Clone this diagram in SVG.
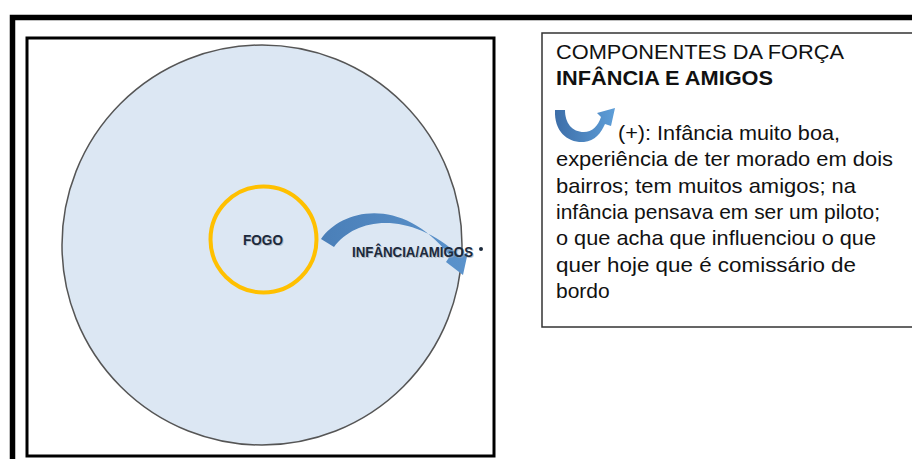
<svg xmlns="http://www.w3.org/2000/svg" width="912" height="459" viewBox="0 0 912 459">
<defs>
<style>
.t{font-family:"Liberation Sans",Arial,sans-serif;font-size:21px;fill:#111}
.b{font-weight:bold}
.lbl{font-family:"Liberation Sans",Arial,sans-serif;font-weight:bold;fill:#1c2a3c}
.sh{font-family:"Liberation Sans",Arial,sans-serif;font-weight:bold;fill:#9aa3ad;opacity:0.6}
</style>
<linearGradient id="gU" x1="0" y1="0" x2="1" y2="0">
<stop offset="0" stop-color="#3d6ea8"/>
<stop offset="1" stop-color="#5e9ed8"/>
</linearGradient>
<linearGradient id="gA" x1="0" y1="0" x2="1" y2="0">
<stop offset="0" stop-color="#4a7fb8"/>
<stop offset="1" stop-color="#5b93cc"/>
</linearGradient>
</defs>
<rect width="912" height="459" fill="#fff"/>
<g id="frame">
<rect x="12.5" y="17.5" width="1000" height="1000" fill="none" stroke="#000" stroke-width="5.5"/>
<rect x="27" y="38" width="467" height="418" fill="#fff" stroke="#000" stroke-width="3"/>
</g>
<g id="campo">
<circle cx="262" cy="245" r="200" fill="#dce7f3" stroke="#555" stroke-width="1.5"/>
</g>
<g id="fogo">
<circle cx="263.5" cy="239.5" r="53" fill="none" stroke="#ffc000" stroke-width="4"/>
<text class="sh" x="244" y="246" font-size="15" textLength="40" lengthAdjust="spacingAndGlyphs">FOGO</text>
<text class="lbl" x="243" y="245" font-size="15" textLength="40" lengthAdjust="spacingAndGlyphs">FOGO</text>
</g>
<g id="connectors">
<path d="M 321,239 C 342,209 402,195 450,256 L 446,262 L 463,275 L 468,252 L 460,256 C 410,210 356,217 334,247 Z" fill="url(#gA)"/>
</g>
<g id="infancia-amigos">
<text class="sh" x="353" y="258" font-size="15" textLength="121" lengthAdjust="spacingAndGlyphs">INFÂNCIA/AMIGOS</text>
<text class="lbl" x="352" y="257" font-size="15" textLength="121" lengthAdjust="spacingAndGlyphs">INFÂNCIA/AMIGOS</text>
<circle cx="481" cy="249" r="2" fill="#1c2a3c"/>
</g>
<g id="componentes">
<rect x="542" y="33" width="400" height="294" fill="#fff" stroke="#333" stroke-width="1.5"/>
<path d="M 555,110 C 554,132 568,143 584,142 C 595,141 601,133 605,124 L 611,126 L 615,108 L 597,113 L 601,117 C 598,126 592,132 584,132 C 572,132 565,123 565,110 Z" fill="url(#gU)"/>
<text class="t" x="556" y="59" textLength="288" lengthAdjust="spacingAndGlyphs">COMPONENTES DA FORÇA</text>
<text class="t b" x="556" y="85" textLength="217" lengthAdjust="spacingAndGlyphs">INFÂNCIA E AMIGOS</text>
<text class="t" x="618" y="140" textLength="222" lengthAdjust="spacingAndGlyphs">(+): Infância muito boa,</text>
<text class="t" x="556" y="166" textLength="337" lengthAdjust="spacingAndGlyphs">experiência de ter morado em dois</text>
<text class="t" x="556" y="193" textLength="300" lengthAdjust="spacingAndGlyphs">bairros; tem muitos amigos; na</text>
<text class="t" x="556" y="219" textLength="324" lengthAdjust="spacingAndGlyphs">infância pensava em ser um piloto;</text>
<text class="t" x="556" y="245" textLength="320" lengthAdjust="spacingAndGlyphs">o que acha que influenciou o que</text>
<text class="t" x="556" y="272" textLength="300" lengthAdjust="spacingAndGlyphs">quer hoje que é comissário de</text>
<text class="t" x="556" y="298">bordo</text>
</g>
</svg>
